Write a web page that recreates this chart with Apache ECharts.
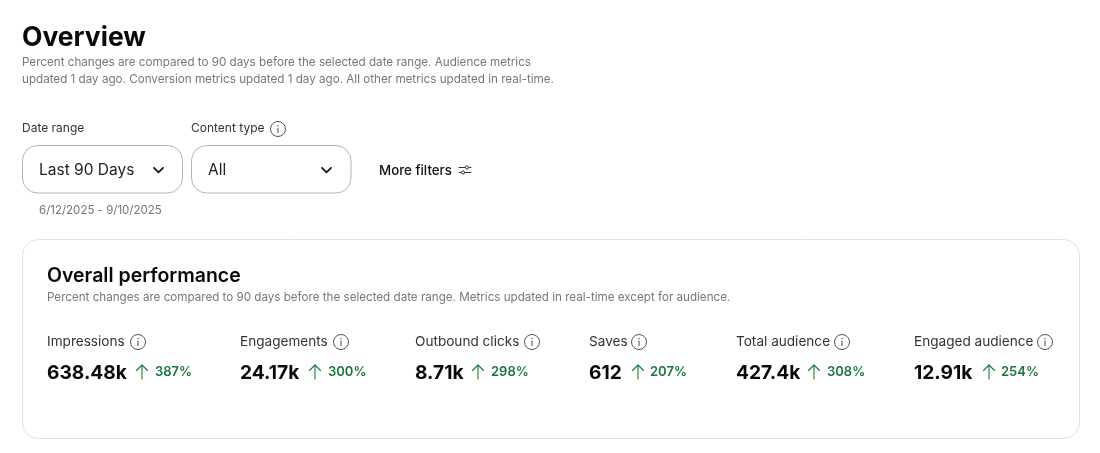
<!DOCTYPE html>
<html>
<head>
<meta charset="utf-8">
<title>Overview</title>
<script src="https://cdn.jsdelivr.net/npm/echarts@6/dist/echarts.min.js"></script>
<style>
html, body { margin: 0; padding: 0; background: #fff; }
#chart { width: 1100px; height: 453px; }
</style>
</head>
<body>
<div id="chart"></div>
<script>
// values
var metricNames = ['Impressions', 'Engagements', 'Outbound clicks', 'Saves', 'Total audience', 'Engaged audience'];
var metricValues = ['638.48k', '24.17k', '8.71k', '612', '427.4k', '12.91k'];
var metricChanges = ['387%', '300%', '298%', '207%', '308%', '254%'];

// layout of the metric row
var nameX = [47, 240, 415, 589, 736, 914];
var iconX = [138, 341, 532, 639, 842, 1045];
var arrowX = [142, 315, 478, 638, 814, 989];
var changeX = [155, 328, 491, 650, 827, 1001];

var FONT = 'Inter, "Noto Sans", sans-serif';
var items = [];

function text(x, y, str, size, weight, color) {
    items.push({
        type: 'text', x: x, y: y, silent: true,
        style: { text: str, font: weight + ' ' + size + 'px ' + FONT, fill: color, verticalAlign: 'middle', align: 'left' }
    });
}

function box(x, y, w, h, r, color) {
    items.push({
        type: 'rect', silent: true,
        shape: { x: x, y: y, width: w, height: h, r: r },
        style: { fill: '#fff', stroke: color, lineWidth: 1 }
    });
}

function line(points, color, width) {
    items.push({
        type: 'polyline', silent: true,
        shape: { points: points },
        style: { fill: null, stroke: color, lineWidth: width, lineCap: 'round', lineJoin: 'round' }
    });
}

function infoIcon(cx, cy) {
    items.push({
        type: 'circle', silent: true,
        shape: { cx: cx, cy: cy, r: 7.5 },
        style: { fill: null, stroke: '#555', lineWidth: 1 }
    });
    line([[cx, cy - 1], [cx, cy + 3.5]], '#555', 1.1);
    line([[cx, cy - 3.6], [cx, cy - 3.3]], '#555', 1.3);
}

function chevron(cx, cy) {
    line([[cx - 4.5, cy - 2.2], [cx, cy + 2.3], [cx + 4.5, cy - 2.2]], '#111', 1.7);
}

function arrowUp(cx, cy) {
    line([[cx, cy + 7], [cx, cy - 7]], '#17763a', 1.1);
    line([[cx - 5.5, cy - 1.5], [cx, cy - 7], [cx + 5.5, cy - 1.5]], '#17763a', 1.1);
}

function filterIcon(cx, cy) {
    line([[cx - 6, cy - 2.5], [cx + 6, cy - 2.5]], '#333', 1);
    line([[cx - 6, cy + 2.5], [cx + 6, cy + 2.5]], '#333', 1);
    items.push({ type: 'circle', silent: true, shape: { cx: cx + 2, cy: cy - 2.5, r: 1.6 }, style: { fill: '#fff', stroke: '#333', lineWidth: 1 } });
    items.push({ type: 'circle', silent: true, shape: { cx: cx - 2, cy: cy + 2.5, r: 1.6 }, style: { fill: '#fff', stroke: '#333', lineWidth: 1 } });
}

// page header
text(22, 38, 'Overview', 26.5, 700, '#0a0a0a');
text(22, 62, 'Percent changes are compared to 90 days before the selected date range. Audience metrics', 11.65, 400, '#777');
text(22, 79.5, 'updated 1 day ago. Conversion metrics updated 1 day ago. All other metrics updated in real-time.', 11.65, 400, '#777');

// filters
text(22, 128.5, 'Date range', 12, 400, '#333');
text(191, 128.5, 'Content type', 12, 400, '#333');
infoIcon(278, 129);
box(22.5, 145.5, 160, 47.5, 15, '#b5b5b5');
box(191.5, 145.5, 159.5, 47.5, 15, '#b5b5b5');
text(39, 170, 'Last 90 Days', 15.5, 400, '#222');
text(208, 170, 'All', 15.5, 400, '#222');
chevron(158.5, 170);
chevron(326.5, 170);
text(379, 170.5, 'More filters', 13.3, 500, '#111');
filterIcon(465, 170);
text(39, 210.5, '6/12/2025 - 9/10/2025', 11.5, 400, '#777');

// performance card
box(22.5, 239.5, 1057, 199, 16, '#e0e0e0');
text(47, 276.5, 'Overall performance', 19.5, 600, '#0a0a0a');
text(47, 297, 'Percent changes are compared to 90 days before the selected date range. Metrics updated in real-time except for audience.', 11.63, 400, '#777');

metricNames.forEach(function (name, i) {
    text(nameX[i], 342, name, 13.6, 400, '#333');
    infoIcon(iconX[i], 342);
    text(nameX[i], 373, metricValues[i], 19.2, 700, '#0a0a0a');
    arrowUp(arrowX[i], 372);
    text(changeX[i], 372, metricChanges[i], 13, 600, '#17763a');
});

var myChart = echarts.init(document.getElementById('chart'));
myChart.setOption({
    animation: false,
    backgroundColor: '#fff',
    graphic: { elements: items }
});
</script>
</body>
</html>
